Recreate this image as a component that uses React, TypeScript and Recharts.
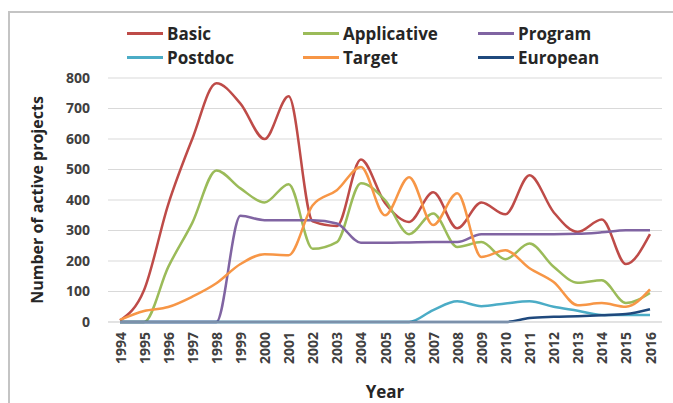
import React from 'react';
import { LineChart, Line, XAxis, YAxis, CartesianGrid, Label } from 'recharts';

const years = [
  '1994', '1995', '1996', '1997', '1998', '1999', '2000', '2001', '2002', '2003', '2004', '2005',
  '2006', '2007', '2008', '2009', '2010', '2011', '2012', '2013', '2014', '2015', '2016',
];

const basic = [5, 105, 385, 600, 783, 716, 600, 740, 330, 315, 533, 390, 328, 425, 307, 392, 353, 481, 360, 295, 336, 190, 288];
const applicative = [0, 0, 180, 325, 497, 438, 392, 452, 240, 262, 455, 400, 288, 356, 246, 262, 206, 257, 181, 129, 137, 62, 95];
const program = [0, 0, 0, 0, 0, 348, 334, 334, 334, 323, 260, 260, 261, 262, 262, 288, 288, 288, 288, 289, 294, 301, 301];
const postdoc = [0, 0, 0, 0, 0, 0, 0, 0, 0, 0, 0, 0, 0, 39, 68, 52, 61, 68, 50, 37, 23, 23, 23];
const target = [7, 36, 49, 83, 127, 190, 222, 219, 383, 432, 508, 350, 475, 318, 422, 213, 235, 176, 131, 55, 62, 50, 107];
const european = [0, 0, 0, 0, 0, 0, 0, 0, 0, 0, 0, 0, 0, 0, 0, 0, 0, 13, 17, 19, 22, 26, 42];

const yTicks = [0, 100, 200, 300, 400, 500, 600, 700, 800];

const series = [
  { key: 'Basic', values: basic, color: '#BE4B48' },
  { key: 'Applicative', values: applicative, color: '#9BBB59' },
  { key: 'Program', values: program, color: '#8064A2' },
  { key: 'Postdoc', values: postdoc, color: '#4BACC6' },
  { key: 'Target', values: target, color: '#F79646' },
  { key: 'European', values: european, color: '#1F497D' },
];

const data = years.map((year, i) => {
  const row: Record<string, string | number> = { year };
  series.forEach((s) => {
    row[s.key] = s.values[i];
  });
  return row;
});

const font = '"Open Sans", "DejaVu Sans", sans-serif';

const XTick = (props: any) => {
  const { x, y, payload } = props;
  return (
    <text
      x={x}
      y={y}
      transform={`rotate(-90 ${x} ${y})`}
      textAnchor="end"
      dominantBaseline="central"
      fontFamily={font}
      fontSize={14}
      fontWeight={700}
      fill="#404040"
    >
      {payload.value}
    </text>
  );
};

// legend laid out like the original: 3 columns x 2 rows
const legendCols = [127, 303, 478];
const legendRows = [33, 57];

export default function App() {
  return (
    <div style={{ position: 'relative', width: 673, height: 403, overflow: 'hidden', background: '#fff' }}>
      <style>{'body{margin:0}'}</style>
      <div
        style={{
          position: 'absolute',
          left: 8,
          top: 11,
          right: 0,
          bottom: 0,
          borderLeft: '2px solid #c4c4c4',
          borderTop: '2px solid #c4c4c4',
        }}
      />
      {series.map((s, i) => (
        <div
          key={s.key}
          style={{
            position: 'absolute',
            left: legendCols[i % 3],
            top: legendRows[Math.floor(i / 3)] - 12,
            height: 24,
            display: 'flex',
            alignItems: 'center',
            fontFamily: font,
            fontSize: 17,
            fontWeight: 700,
            color: '#262626',
          }}
        >
          <span style={{ display: 'inline-block', width: 36, height: 3, background: s.color, marginRight: 4 }} />
          {s.key}
        </div>
      ))}
      <LineChart
        width={673}
        height={403}
        data={data}
        margin={{ top: 78, right: 11, left: 0, bottom: 0 }}
        style={{ position: 'absolute', left: 0, top: 0 }}
      >
        <CartesianGrid vertical={false} stroke="#d9d9d9" strokeWidth={1} />
        <XAxis
          dataKey="year"
          height={81}
          interval={0}
          padding={{ left: 12, right: 12 }}
          tickLine={false}
          tickSize={0}
          tickMargin={10}
          axisLine={{ stroke: '#d9d9d9' }}
          tick={<XTick />}
        >
          <Label
            value="Year"
            position="insideBottom"
            offset={5}
            style={{ fontFamily: font, fontSize: 17, fontWeight: 700, fill: '#262626' }}
          />
        </XAxis>
        <YAxis
          width={108}
          domain={[0, 800]}
          ticks={yTicks}
          axisLine={false}
          tickLine={false}
          tickSize={0}
          tickMargin={18}
          tick={{ fontFamily: font, fontSize: 14, fontWeight: 700, fill: '#404040' }}
        >
          <Label
            value="Number of active projects"
            angle={-90}
            position="center"
            dx={-17}
            style={{ fontFamily: font, fontSize: 16, fontWeight: 700, fill: '#262626', textAnchor: 'middle' }}
          />
        </YAxis>
        {series.map((s) => (
          <Line
            key={s.key}
            type="monotone"
            dataKey={s.key}
            stroke={s.color}
            strokeWidth={2.5}
            dot={false}
            activeDot={false}
            isAnimationActive={false}
          />
        ))}
      </LineChart>
    </div>
  );
}
